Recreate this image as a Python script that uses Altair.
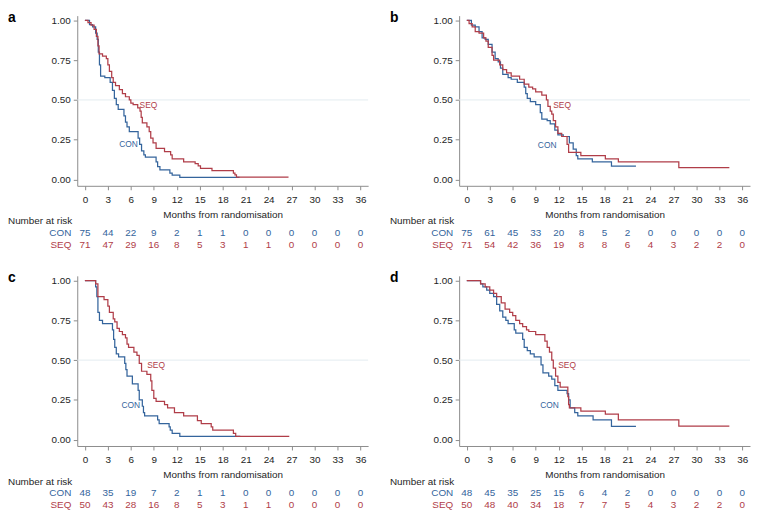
import altair as alt
import pandas as pd

FONT = "Liberation Sans"
BLUE = "#34649c"
RED = "#b03d48"
AXC = "#8c8c8c"
TXT = "#1e1e1e"

MONTH_TICKS = [0, 3, 6, 9, 12, 15, 18, 21, 24, 27, 30, 33, 36]
Y_TICKS = [0, 0.25, 0.5, 0.75, 1.0]
GROUPS = ["CON", "SEQ"]

# ---- panel a ----
A_CON_T = [0, 0.6, 1.0, 1.4, 1.6, 1.75, 1.9, 2.05, 2.6, 3.3, 3.6, 3.85, 4.1, 4.35, 5.1, 5.3, 5.5, 5.8, 6.95, 7.15,
           7.4, 7.7, 7.9, 9.3, 9.5, 9.8, 11.1, 11.4, 12.4, 20.2]
A_CON_S = [1.0, 0.973, 0.96, 0.92, 0.88, 0.80, 0.72, 0.65, 0.64, 0.61, 0.56, 0.51, 0.47, 0.44, 0.40, 0.36, 0.33, 0.30, 0.26, 0.22,
           0.18, 0.155, 0.14, 0.11, 0.08, 0.06, 0.04, 0.027, 0.013, 0.013]
A_SEQ_T = [0, 0.4, 0.8, 1.2, 1.5, 1.7, 1.85, 2.3, 2.8, 3.0, 3.2, 3.5, 3.7, 4.0, 4.5, 4.9, 5.3, 5.8, 6.0, 6.3,
           6.9, 7.2, 7.35, 7.5, 8.1, 8.4, 8.6, 8.9, 9.3, 10.4, 11.2, 11.4, 12.9, 14.4, 14.8, 15.1, 16.6, 19.4, 19.6, 19.8, 26.6]
A_SEQ_S = [1.0, 0.986, 0.97, 0.944, 0.90, 0.84, 0.79, 0.775, 0.76, 0.72, 0.68, 0.64, 0.61, 0.59, 0.565, 0.54, 0.52, 0.50, 0.48, 0.47,
           0.45, 0.43, 0.39, 0.355, 0.33, 0.30, 0.26, 0.23, 0.195, 0.175, 0.155, 0.13, 0.11, 0.10, 0.085, 0.07, 0.055, 0.04, 0.028, 0.014, 0.014]
A_RISK_CON = [75, 44, 22, 9, 2, 1, 1, 0, 0, 0, 0, 0, 0]
A_RISK_SEQ = [71, 47, 29, 16, 8, 5, 3, 1, 1, 0, 0, 0, 0]
A_LAB_T = [5.7, 8.3]
A_LAB_S = [0.22, 0.467]

# ---- panel b ----
B_CON_T = [0, 0.6, 1.1, 1.6, 2.0, 2.4, 2.8, 3.3, 3.7, 4.1, 4.4, 4.7, 5.4, 5.8, 6.6, 7.5, 7.7, 7.9, 8.3, 9.0,
           9.6, 9.8, 10.5, 10.9, 11.5, 11.9, 12.6, 13.4, 13.9, 14.3, 14.5, 16.4, 18.9, 22.1]
B_CON_S = [1.0, 0.97, 0.96, 0.93, 0.89, 0.88, 0.85, 0.80, 0.76, 0.74, 0.70, 0.66, 0.64, 0.63, 0.61, 0.58, 0.54, 0.51, 0.49, 0.47,
           0.42, 0.38, 0.37, 0.35, 0.31, 0.28, 0.27, 0.23, 0.19, 0.15, 0.13, 0.11, 0.084, 0.084]
B_SEQ_T = [0, 0.3, 0.7, 1.1, 1.6, 2.2, 2.5, 2.8, 3.3, 3.5, 4.3, 4.7, 5.2, 5.8, 6.9, 7.5, 8.1, 8.6, 9.0, 9.8,
           10.4, 10.6, 10.9, 11.1, 11.3, 11.6, 11.9, 12.4, 13.1, 13.3, 14.9, 18.1, 19.8, 27.7, 34.3]
B_SEQ_S = [1.0, 0.98, 0.96, 0.93, 0.92, 0.89, 0.87, 0.83, 0.78, 0.75, 0.72, 0.69, 0.67, 0.65, 0.63, 0.60, 0.58, 0.57, 0.55, 0.53,
           0.50, 0.46, 0.43, 0.41, 0.37, 0.33, 0.29, 0.27, 0.22, 0.17, 0.15, 0.13, 0.11, 0.075, 0.075]
B_RISK_CON = [75, 61, 45, 33, 20, 8, 5, 2, 0, 0, 0, 0, 0]
B_RISK_SEQ = [71, 54, 42, 36, 19, 8, 8, 6, 4, 3, 2, 2, 0]
B_LAB_T = [10.5, 12.45]
B_LAB_S = [0.218, 0.471]

# ---- panel c ----
C_CON_T = [0, 1.4, 1.56, 1.7, 1.9, 2.3, 3.6, 3.75, 3.9, 4.1, 4.4, 5.2, 5.35, 5.5, 6.2, 6.95, 7.1, 7.5, 7.65, 7.8,
           9.5, 9.7, 11.0, 11.15, 11.4, 12.4, 20.3]
C_CON_S = [1.0, 0.96, 0.90, 0.80, 0.75, 0.73, 0.69, 0.63, 0.58, 0.54, 0.52, 0.48, 0.44, 0.40, 0.35, 0.31, 0.25, 0.21, 0.17, 0.15,
           0.125, 0.10, 0.08, 0.06, 0.04, 0.021, 0.021]
C_SEQ_T = [0, 1.4, 1.7, 2.5, 3.0, 3.2, 3.7, 3.9, 4.2, 4.5, 4.9, 5.3, 5.5, 5.7, 6.4, 6.8, 7.1, 7.4, 8.1, 8.6,
           8.75, 9.0, 9.3, 10.4, 10.8, 11.7, 12.9, 14.7, 15.2, 16.5, 16.7, 19.4, 19.7, 26.7]
C_SEQ_S = [1.0, 0.98, 0.90, 0.88, 0.84, 0.80, 0.76, 0.74, 0.70, 0.68, 0.66, 0.64, 0.60, 0.58, 0.55, 0.53, 0.48, 0.43, 0.41, 0.37,
           0.31, 0.26, 0.24, 0.22, 0.20, 0.17, 0.15, 0.12, 0.10, 0.08, 0.06, 0.04, 0.02, 0.02]
C_RISK_CON = [48, 35, 19, 7, 2, 1, 1, 0, 0, 0, 0, 0, 0]
C_RISK_SEQ = [50, 43, 28, 16, 8, 5, 3, 1, 1, 0, 0, 0, 0]
C_LAB_T = [6.0, 9.3]
C_LAB_S = [0.216, 0.472]

# ---- panel d ----
D_CON_T = [0, 1.8, 2.1, 2.6, 3.0, 3.5, 3.9, 4.3, 4.7, 5.1, 5.4, 6.2, 6.4, 7.3, 7.5, 7.9, 8.3, 8.8, 9.7, 9.95,
           10.7, 11.1, 11.5, 11.9, 13.1, 13.3, 13.5, 14.1, 14.5, 16.5, 18.9, 22.1]
D_CON_S = [1.0, 0.98, 0.96, 0.94, 0.92, 0.90, 0.85, 0.81, 0.77, 0.75, 0.73, 0.69, 0.67, 0.63, 0.58, 0.56, 0.54, 0.52, 0.47, 0.42,
           0.40, 0.38, 0.34, 0.31, 0.29, 0.25, 0.20, 0.17, 0.15, 0.125, 0.083, 0.083]
D_SEQ_T = [0, 1.8, 2.4, 3.0, 3.5, 3.9, 4.5, 5.0, 5.6, 6.0, 6.4, 6.9, 7.3, 7.8, 8.1, 9.0, 10.2, 10.5, 10.8, 11.1,
           11.3, 11.6, 11.9, 12.2, 13.2, 13.3, 13.4, 14.9, 18.1, 19.8, 27.7, 34.3]
D_SEQ_S = [1.0, 0.98, 0.96, 0.94, 0.92, 0.90, 0.86, 0.82, 0.80, 0.78, 0.75, 0.73, 0.71, 0.69, 0.68, 0.66, 0.62, 0.58, 0.55, 0.50,
           0.45, 0.40, 0.36, 0.33, 0.27, 0.22, 0.20, 0.18, 0.16, 0.125, 0.085, 0.085]
D_RISK_CON = [48, 45, 35, 25, 15, 6, 4, 2, 0, 0, 0, 0, 0]
D_RISK_SEQ = [50, 48, 40, 34, 18, 7, 7, 5, 4, 3, 2, 2, 0]
D_LAB_T = [10.8, 13.1]
D_LAB_S = [0.22, 0.468]

W = 294
H = 172

color = alt.Color("g:N", scale=alt.Scale(domain=GROUPS, range=[BLUE, RED]), legend=None)
XSC = alt.Scale(domain=[-1, 37], nice=False, zero=False)
YSC = alt.Scale(domain=[-0.04, 1.03], nice=False, zero=False)
XAXIS = alt.Axis(values=MONTH_TICKS, title="Months from randomisation",
                 labelPadding=5, titlePadding=5, labelFlush=False,
                 labelOverlap=False, labelSeparation=0)
YAXIS = alt.Axis(values=Y_TICKS, format=".2f", title=None, labelPadding=3, labelOverlap=False)


def X():
    return alt.X("t:Q", scale=XSC, axis=XAXIS)


def Y():
    return alt.Y("s:Q", scale=YSC, axis=YAXIS)


def panel(letter, ct, cs, st, ss, rc, rs, lt, ls):
    curves = pd.DataFrame({"t": ct + st, "s": cs + ss,
                           "g": ["CON"] * len(ct) + ["SEQ"] * len(st)})
    ref = alt.Chart(pd.DataFrame({"s": [0.5]})).mark_rule(color="#e3ecf0", strokeWidth=1).encode(y=Y())
    lines = alt.Chart(curves).mark_line(interpolate="step-after", strokeWidth=1.25).encode(
        x=X(), y=Y(), color=color)
    labs = alt.Chart(pd.DataFrame({"t": lt, "s": ls, "g": GROUPS})).mark_text(
        font=FONT, fontSize=8.5).encode(x=X(), y=Y(), text="g:N", color=color)
    r_con = alt.Chart(pd.DataFrame({"t": MONTH_TICKS, "n": rc, "g": "CON"})).mark_text(
        font=FONT, fontSize=10, baseline="middle").encode(
        x=X(), y=alt.value(H + 48), text="n:Q", color=color)
    r_seq = alt.Chart(pd.DataFrame({"t": MONTH_TICKS, "n": rs, "g": "SEQ"})).mark_text(
        font=FONT, fontSize=10, baseline="middle").encode(
        x=X(), y=alt.value(H + 60), text="n:Q", color=color)
    rowlab = alt.Chart(pd.DataFrame({"g": GROUPS, "yy": [H + 48, H + 60]})).mark_text(
        font=FONT, fontSize=10, align="right", baseline="middle").encode(
        x=alt.value(-6), y=alt.Y("yy:Q", scale=None), text="g:N", color=color)
    nar = alt.Chart(pd.DataFrame({"lab": ["Number at risk"]})).mark_text(
        font=FONT, fontSize=10, align="left", baseline="middle", color=TXT).encode(
        x=alt.value(-70), y=alt.value(H + 36), text="lab:N")
    let = alt.Chart(pd.DataFrame({"lab": [letter]})).mark_text(
        font=FONT, fontSize=14, fontWeight="bold", align="left", baseline="middle", color="#000").encode(
        x=alt.value(-70), y=alt.value(2), text="lab:N")
    return alt.layer(ref, lines, labs, r_con, r_seq, rowlab, nar, let).properties(width=W, height=H)


pa = panel("a", A_CON_T, A_CON_S, A_SEQ_T, A_SEQ_S, A_RISK_CON, A_RISK_SEQ, A_LAB_T, A_LAB_S)
pb = panel("b", B_CON_T, B_CON_S, B_SEQ_T, B_SEQ_S, B_RISK_CON, B_RISK_SEQ, B_LAB_T, B_LAB_S)
pc = panel("c", C_CON_T, C_CON_S, C_SEQ_T, C_SEQ_S, C_RISK_CON, C_RISK_SEQ, C_LAB_T, C_LAB_S)
pd_ = panel("d", D_CON_T, D_CON_S, D_SEQ_T, D_SEQ_S, D_RISK_CON, D_RISK_SEQ, D_LAB_T, D_LAB_S)

chart = alt.vconcat(
    alt.hconcat(pa, pb, spacing=21),
    alt.hconcat(pc, pd_, spacing=21),
    spacing=21,
).properties(padding=0, background="white").configure_view(strokeWidth=0).configure_axis(
    domainColor=AXC, tickColor=AXC, tickSize=4, grid=False, labelOverlap=False,
    labelFont=FONT, labelFontSize=10, labelColor=TXT,
    titleFont=FONT, titleFontSize=10, titleFontWeight="normal", titleColor=TXT,
)

chart.save("out.html", embed_options={"renderer": "svg", "actions": False})
